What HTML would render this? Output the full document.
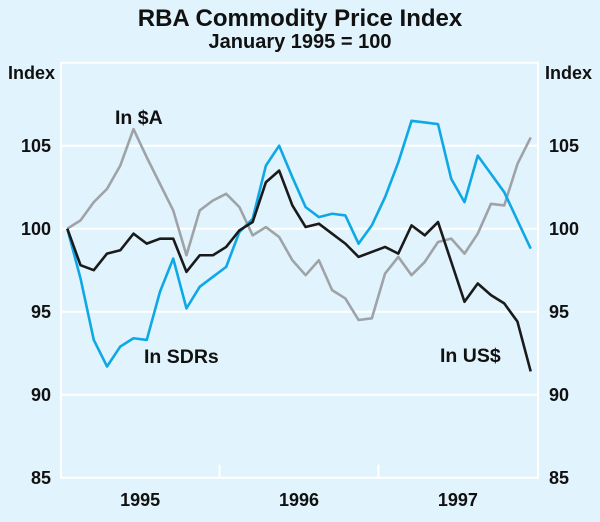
<!DOCTYPE html>
<html><head><meta charset="utf-8"><style>
body{margin:0;background:#e1f3fd;}
svg{display:block;font-family:"Liberation Sans",Arial,sans-serif;font-weight:bold;}
</style></head><body>
<svg width="600" height="522" viewBox="0 0 600 522">
<rect x="0" y="0" width="600" height="522" fill="#e1f3fd"/>
<text x="300" y="26" text-anchor="middle" font-size="24" fill="#111">RBA Commodity Price Index</text>
<text x="300" y="48" text-anchor="middle" font-size="20" fill="#111">January 1995 = 100</text>
<text x="8" y="79" font-size="18" fill="#111">Index</text>
<text x="592" y="79" text-anchor="end" font-size="18" fill="#111">Index</text>
<g id="grid"></g>
<g id="series"></g>
<text x="115" y="124" font-size="19.5" fill="#111">In $A</text>
<text x="144" y="363" font-size="19.5" fill="#111">In SDRs</text>
<text x="440" y="362" font-size="19.5" fill="#111">In US$</text>
</svg>
<script>
const yTicks=[85,90,95,100,105];
const yearLabels=["1995","1996","1997"];
const inAUD=[100,100.5,101.6,102.4,103.8,106.0,104.3,102.7,101.1,98.4,101.1,101.7,102.1,101.3,99.6,100.1,99.5,98.1,97.2,98.1,96.3,95.8,94.5,94.6,97.3,98.3,97.2,98.0,99.2,99.4,98.5,99.7,101.5,101.4,103.9,105.5];
const inSDR=[100,97.0,93.3,91.7,92.9,93.4,93.3,96.2,98.2,95.2,96.5,97.1,97.7,99.8,100.6,103.8,105.0,103.1,101.3,100.7,100.9,100.8,99.1,100.2,101.9,104.0,106.5,106.4,106.3,103.0,101.6,104.4,103.3,102.2,100.5,98.8];
const inUSD=[100,97.8,97.5,98.5,98.7,99.7,99.1,99.4,99.4,97.4,98.4,98.4,98.9,99.9,100.4,102.8,103.5,101.4,100.1,100.3,99.7,99.1,98.3,98.6,98.9,98.5,100.2,99.6,100.4,98.0,95.6,96.7,96.0,95.5,94.4,91.4];
const NS="http://www.w3.org/2000/svg";
const L=61,R=538,T=62.7,B=477.7,yMin=85,yMax=110,x0=67.3,step=13.24;
const sy=v=>B-(v-yMin)/(yMax-yMin)*(B-T);
const sx=i=>x0+i*step;
const grid=document.getElementById('grid');
function mk(tag,attrs,parent){const e=document.createElementNS(NS,tag);for(const k in attrs)e.setAttribute(k,attrs[k]);parent.appendChild(e);return e;}
yTicks.forEach(v=>{
 if(v>yMin){const g=mk('line',{x1:L,x2:R,y1:sy(v),y2:sy(v),stroke:'#fff','stroke-width':2},grid);
 
 }
 const a=mk('text',{x:51,y:sy(v)+6.5,'text-anchor':'end','font-size':18,fill:'#111'},grid);a.textContent=v;
 
 
 const b=mk('text',{x:549,y:sy(v)+6.5,'font-size':18,fill:'#111'},grid);b.textContent=v;
 
 
});
const fr=mk('rect',{x:L,y:T,width:R-L,height:B-T,fill:'none',stroke:'#fff','stroke-width':2},grid);


yearLabels.forEach((y,k)=>{
 const cx=sx(12*k+5.5);
 const t=mk('text',{x:cx,y:506,'text-anchor':'middle','font-size':18,fill:'#111'},grid);t.textContent=y;
 
 
 if(k>0){const tk=mk('line',{x1:sx(12*k-0.5),x2:sx(12*k-0.5),y1:B,y2:B-13,stroke:'#fff','stroke-width':2},grid);
 
 }
});
const ser=document.getElementById('series');
[[inAUD,'#9fa3a7','line-in-aud'],[inSDR,'#0ea8e6','line-in-sdrs'],[inUSD,'#1a1a1a','line-in-usd']].forEach(([d,c,n])=>{
 const p=mk('polyline',{points:d.map((v,i)=>sx(i)+','+sy(v)).join(' '),fill:'none',stroke:c,'stroke-width':2.6,'stroke-linejoin':'round'},ser);
 
 
});
</script>
</body></html>
